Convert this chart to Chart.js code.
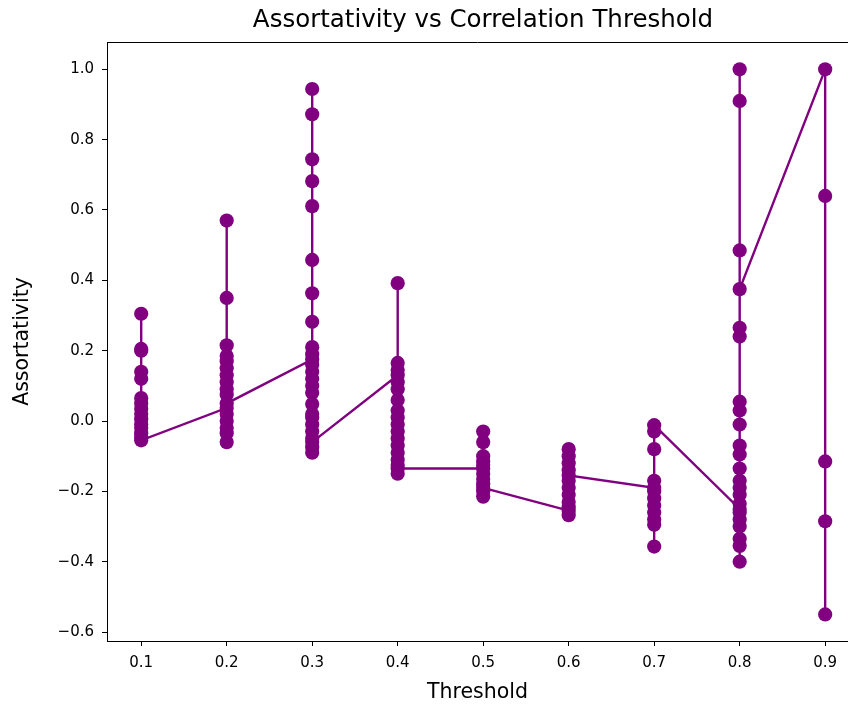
<!DOCTYPE html>
<html><head><meta charset="utf-8">
<script src="https://cdn.jsdelivr.net/npm/chart.js@4.4.1/dist/chart.umd.min.js"></script>
<style>html,body{margin:0;padding:0;overflow:hidden;background:#fff}canvas{display:block}</style>
</head><body>
<canvas id="c" width="848" height="704"></canvas>
<script>
// Thresholds (x categories) and assortativity values per threshold, in plotting order
const thresholds = [0.1, 0.2, 0.3, 0.4, 0.5, 0.6, 0.7, 0.8, 0.9];
const vals01 = [0.305, 0.205, 0.2, 0.14, 0.12, 0.065, 0.05, 0.035, 0.02, 0.005, -0.01, -0.02, -0.035, -0.045, -0.055];
const vals02 = [0.037, 0.57, 0.35, 0.215, 0.185, 0.17, 0.15, 0.13, 0.11, 0.09, 0.075, 0.02, 0.0, -0.02, -0.035, -0.06, 0.05];
const vals03 = [0.175, 0.944, 0.872, 0.744, 0.682, 0.611, 0.458, 0.363, 0.282, 0.21, 0.19, 0.16, 0.14, 0.12, 0.1, 0.08, 0.048, 0.02, 0.01, -0.01, -0.03, -0.05, -0.075, -0.09, -0.06];
const vals04 = [0.13, 0.392, 0.165, 0.145, 0.11, 0.09, 0.06, 0.03, 0.01, -0.01, -0.03, -0.05, -0.07, -0.09, -0.11, -0.125, -0.15, -0.135];
const vals05 = [-0.135, -0.03, -0.06, -0.1, -0.115, -0.125, -0.15, -0.165, -0.18, -0.2, -0.215, -0.19];
const vals06 = [-0.255, -0.08, -0.1, -0.12, -0.14, -0.17, -0.19, -0.21, -0.23, -0.245, -0.268, -0.155];
const vals07 = [-0.19, -0.08, -0.17, -0.2, -0.22, -0.24, -0.26, -0.28, -0.295, -0.357, -0.03, -0.012];
const vals08 = [-0.25, -0.4, -0.355, -0.335, -0.3, -0.28, -0.26, -0.235, -0.21, -0.19, -0.17, -0.135, -0.095, -0.07, -0.01, 0.03, 0.055, 0.24, 0.265, 0.485, 0.91, 1.0, 0.375];
const vals09 = [1.0, 0.64, -0.115, -0.285, -0.55];
const xTickValues = [0.1, 0.2, 0.3, 0.4, 0.5, 0.6, 0.7, 0.8, 0.9];
const yTickValues = [-0.6, -0.4, -0.2, 0.0, 0.2, 0.4, 0.6, 0.8, 1.0];

const groups = [vals01, vals02, vals03, vals04, vals05, vals06, vals07, vals08, vals09];
const points = [];
groups.forEach((g, i) => g.forEach(v => points.push({x: thresholds[i], y: v})));

const FONT = "'DejaVu Sans', sans-serif";
const purple = '#800080';

const frame = {
  id: 'frame',
  afterLayout(chart) {
    // centre the title over the (uncropped) axes, as in the reference
    const t = chart.titleBlock;
    if (t) { t.left = 2 * 483 - t.right; }
  },
  afterDatasetsDraw(chart) {
    const a = chart.chartArea, ctx = chart.ctx;
    ctx.save();
    ctx.strokeStyle = '#000';
    ctx.lineWidth = 1;
    ctx.beginPath();
    ctx.moveTo(a.left, a.top + 0.5);
    ctx.lineTo(chart.width, a.top + 0.5);
    const yb = Math.floor(a.bottom) + 0.5;
    ctx.moveTo(a.right, yb);
    ctx.lineTo(chart.width, yb);
    ctx.stroke();
    ctx.restore();
  }
};

new Chart(document.getElementById('c'), {
  type: 'line',
  data: {
    datasets: [{
      data: points,
      borderColor: purple,
      backgroundColor: purple,
      borderWidth: 2.4,
      tension: 0,
      pointRadius: 7.1,
      pointBorderWidth: 0,
      pointBackgroundColor: purple,
      fill: false
    }]
  },
  options: {
    responsive: false,
    animation: false,
    devicePixelRatio: 1,
    layout: {padding: 0, autoPadding: false},
    plugins: {
      legend: {display: false},
      tooltip: {enabled: false},
      title: {
        display: true,
        fullSize: false,
        text: 'Assortativity vs Correlation Threshold',
        color: '#000',
        font: {family: FONT, size: 24.5, weight: 'normal'},
        padding: {top: 6, bottom: 6.6}
      }
    },
    scales: {
      x: {
        type: 'linear',
        min: 0.06,
        max: 0.9267,
        afterBuildTicks: s => { s.ticks = xTickValues.map(v => ({value: v})); },
        afterFit: s => { s.height = 63; s.paddingRight = 0; s.paddingLeft = 0; },
        ticks: {color: '#000', font: {family: FONT, size: 15}, padding: 8, callback: v => v.toFixed(1)},
        grid: {display: true, drawOnChartArea: false, drawTicks: true, tickLength: 5, tickColor: '#000', tickWidth: 1, color: 'rgba(0,0,0,0)'},
        border: {display: true, color: '#000', width: 1},
        title: {display: true, text: 'Threshold', color: '#000', font: {family: FONT, size: 20.5}, padding: {top: 0, bottom: -1}}
      },
      y: {
        type: 'linear',
        position: 'left',
        min: -0.6255,
        max: 1.0776,
        afterBuildTicks: s => { s.ticks = yTickValues.map(v => ({value: v})); },
        afterFit: s => { s.width = 107; },
        ticks: {color: '#000', font: {family: FONT, size: 15}, padding: 8, callback: v => (v < -1e-9 ? '\u2212' + Math.abs(v).toFixed(1) : Math.abs(v).toFixed(1))},
        grid: {display: true, drawOnChartArea: false, drawTicks: true, tickLength: 5, tickColor: '#000', tickWidth: 1, color: 'rgba(0,0,0,0)'},
        border: {display: true, color: '#000', width: 1},
        title: {display: true, text: 'Assortativity', color: '#000', font: {family: FONT, size: 20.5}, padding: {top: 10, bottom: 0}}
      }
    }
  },
  plugins: [frame]
});
</script>
</body></html>
